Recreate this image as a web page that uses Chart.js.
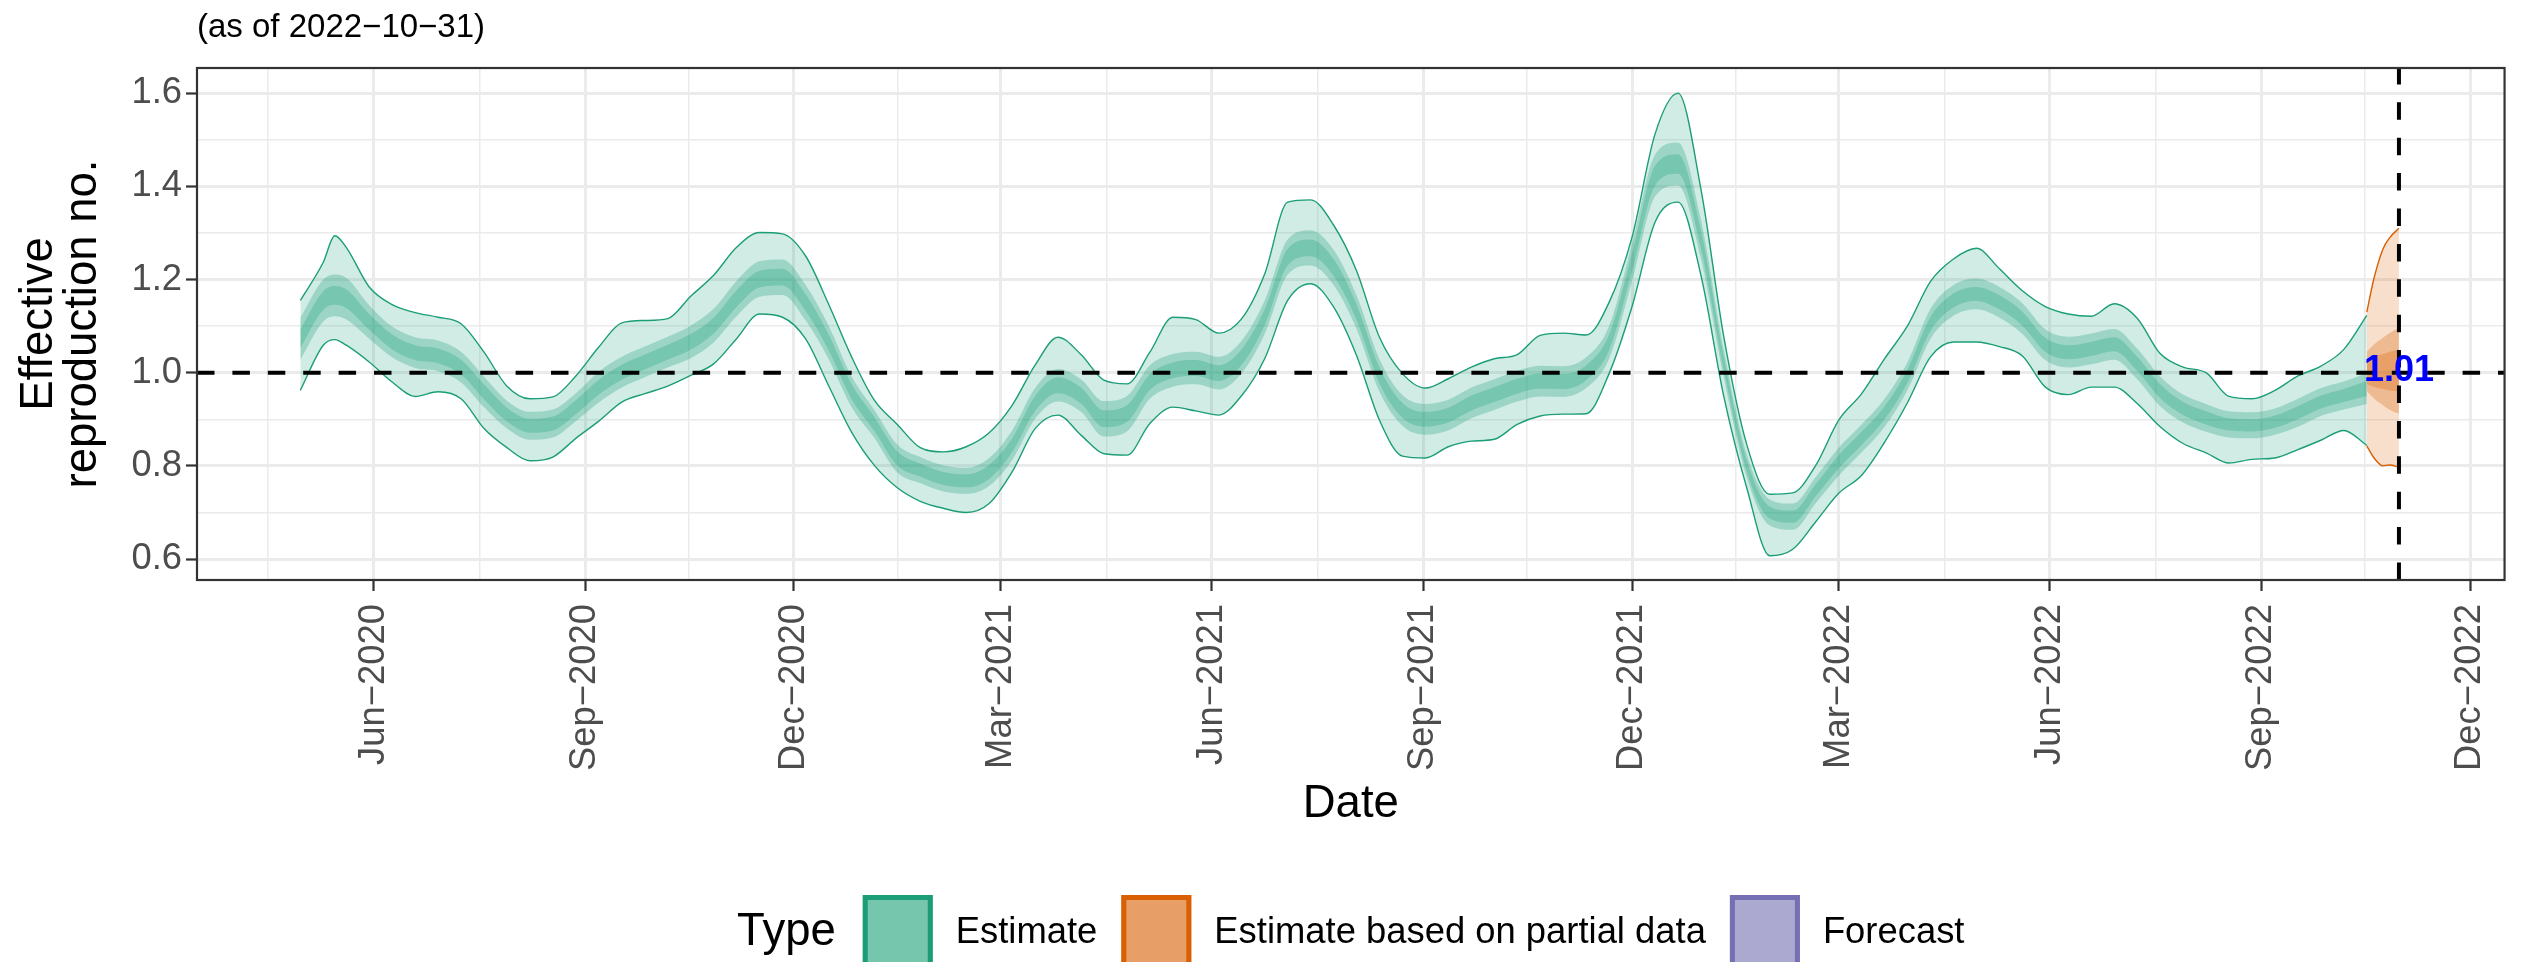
<!DOCTYPE html>
<html>
<head>
<meta charset="utf-8">
<title>Effective reproduction number</title>
<script src="https://cdn.jsdelivr.net/npm/chart.js@4.4.0/dist/chart.umd.min.js"></script>
<style>
  html, body { margin: 0; padding: 0; background: #ffffff; }
  #wrap { position: relative; width: 2527px; height: 962px; }
</style>
</head>
<body>
<div id="wrap"><canvas id="chart"></canvas></div>
<script>
// Rt estimate ribbons (90 / 50 / 20 % intervals), style ggplot theme_bw
const FONT = '"Liberation Sans", Arial, Helvetica, sans-serif';
Chart.defaults.font.family = FONT;

const TITLE = '(as of 2022\u221210\u221231)';
const AS_OF = '2022-10-31';
const LATEST_LABEL = '1.01';
const LATEST_VALUE = 1.01;
const REF_R = 1;

// axis limits and breaks
const X_MIN = '2020-03-16';
const X_MAX = '2022-12-16';
const Y_MIN = 0.555;
const Y_MAX = 1.654;
const X_MAJOR = ['2020-06-01', '2020-09-01', '2020-12-01', '2021-03-01', '2021-06-01', '2021-09-01',
  '2021-12-01', '2022-03-01', '2022-06-01', '2022-09-01', '2022-12-01'];
const X_LABELS = ['Jun\u22122020', 'Sep\u22122020', 'Dec\u22122020', 'Mar\u22122021', 'Jun\u22122021', 'Sep\u22122021',
  'Dec\u22122021', 'Mar\u22122022', 'Jun\u22122022', 'Sep\u22122022', 'Dec\u22122022'];
const X_MINOR = ['2020-04-16', '2020-07-17', '2020-10-16', '2021-01-15', '2021-04-16', '2021-07-17',
  '2021-10-16', '2022-01-15', '2022-04-16', '2022-07-17', '2022-10-16'];
const Y_MAJOR = [0.6, 0.8, 1.0, 1.2, 1.4, 1.6];
const Y_MINOR = [0.7, 0.9, 1.1, 1.3, 1.5];

// legend
const LEGEND_TITLE = 'Type';
const LEGEND_LABELS = ['Estimate', 'Estimate based on partial data', 'Forecast'];
const LEGEND_COLORS = ['#1b9e77', '#d95f02', '#7570b3'];

// Estimate
const EST_DATES = [
  '2020-04-30', '2020-05-10', '2020-05-15', '2020-05-20', '2020-05-30', '2020-06-09', '2020-06-19', '2020-06-29', '2020-07-09', '2020-07-19', '2020-07-29',
  '2020-08-08', '2020-08-18', '2020-08-28', '2020-09-07', '2020-09-17', '2020-09-27', '2020-10-07', '2020-10-17', '2020-10-27', '2020-11-06',
  '2020-11-16', '2020-11-26', '2020-12-06', '2020-12-16', '2020-12-26', '2021-01-05', '2021-01-15', '2021-01-25', '2021-02-04', '2021-02-14',
  '2021-02-24', '2021-03-06', '2021-03-16', '2021-03-26', '2021-04-05', '2021-04-15', '2021-04-25', '2021-05-05', '2021-05-15', '2021-05-25',
  '2021-06-04', '2021-06-14', '2021-06-24', '2021-07-04', '2021-07-14', '2021-07-24', '2021-08-03', '2021-08-13', '2021-08-23', '2021-09-02',
  '2021-09-12', '2021-09-22', '2021-10-02', '2021-10-12', '2021-10-22', '2021-11-01', '2021-11-11', '2021-11-21', '2021-12-01', '2021-12-11',
  '2021-12-21', '2021-12-31', '2022-01-10', '2022-01-20', '2022-01-30', '2022-02-09', '2022-02-19', '2022-03-01', '2022-03-11', '2022-03-21',
  '2022-03-31', '2022-04-10', '2022-04-20', '2022-04-30', '2022-05-10', '2022-05-20', '2022-05-30', '2022-06-09', '2022-06-19', '2022-06-29',
  '2022-07-09', '2022-07-19', '2022-07-29', '2022-08-08', '2022-08-18', '2022-08-28', '2022-09-07', '2022-09-17', '2022-09-27', '2022-10-07',
  '2022-10-17'];
const EST_LO90 = [
  0.962, 1.059, 1.071, 1.059, 1.023, 0.980, 0.949, 0.959, 0.944, 0.880, 0.839,
  0.811, 0.819, 0.859, 0.896, 0.937, 0.955, 0.971, 0.994, 1.019, 1.073,
  1.126, 1.119, 1.073, 0.973, 0.873, 0.801, 0.753, 0.724, 0.709, 0.700,
  0.719, 0.787, 0.880, 0.909, 0.866, 0.826, 0.823, 0.891, 0.926, 0.918,
  0.909, 0.951, 1.030, 1.155, 1.191, 1.141, 1.037, 0.898, 0.821, 0.817,
  0.841, 0.853, 0.857, 0.889, 0.907, 0.911, 0.912, 0.998, 1.142, 1.323,
  1.366, 1.209, 0.948, 0.752, 0.607, 0.621, 0.680, 0.741, 0.780, 0.851,
  0.936, 1.034, 1.066, 1.066, 1.056, 1.036, 0.969, 0.953, 0.969, 0.969,
  0.934, 0.884, 0.848, 0.828, 0.806, 0.814, 0.817, 0.835, 0.855, 0.876,
  0.844];
const EST_LO50 = [
  1.028, 1.110, 1.121, 1.114, 1.073, 1.033, 1.010, 1.003, 0.979, 0.926, 0.880,
  0.856, 0.861, 0.896, 0.936, 0.968, 0.990, 1.011, 1.031, 1.065, 1.121,
  1.163, 1.167, 1.113, 1.030, 0.927, 0.860, 0.786, 0.763, 0.745, 0.740,
  0.757, 0.812, 0.901, 0.938, 0.916, 0.863, 0.874, 0.944, 0.970, 0.975,
  0.964, 0.999, 1.083, 1.210, 1.230, 1.188, 1.094, 0.959, 0.886, 0.867,
  0.876, 0.902, 0.920, 0.938, 0.949, 0.948, 0.967, 1.030, 1.197, 1.378,
  1.402, 1.245, 0.989, 0.775, 0.672, 0.663, 0.720, 0.779, 0.829, 0.884,
  0.963, 1.073, 1.122, 1.136, 1.118, 1.083, 1.027, 1.011, 1.018, 1.028,
  0.986, 0.928, 0.893, 0.873, 0.861, 0.859, 0.867, 0.884, 0.907, 0.921,
  0.933];
const EST_LO20 = [
  1.053, 1.135, 1.146, 1.139, 1.092, 1.050, 1.027, 1.020, 0.996, 0.943, 0.895,
  0.871, 0.876, 0.911, 0.953, 0.985, 1.007, 1.028, 1.049, 1.084, 1.141,
  1.183, 1.187, 1.133, 1.049, 0.944, 0.875, 0.801, 0.777, 0.759, 0.754,
  0.772, 0.829, 0.918, 0.956, 0.934, 0.883, 0.894, 0.963, 0.988, 0.993,
  0.982, 1.017, 1.102, 1.230, 1.250, 1.208, 1.113, 0.977, 0.903, 0.884,
  0.893, 0.919, 0.937, 0.955, 0.966, 0.965, 0.984, 1.048, 1.218, 1.402,
  1.427, 1.267, 1.005, 0.788, 0.687, 0.678, 0.735, 0.795, 0.845, 0.900,
  0.979, 1.090, 1.140, 1.154, 1.136, 1.101, 1.045, 1.029, 1.036, 1.046,
  1.004, 0.945, 0.909, 0.889, 0.876, 0.874, 0.882, 0.900, 0.923, 0.937,
  0.950];
const EST_HI20 = [
  1.093, 1.175, 1.186, 1.179, 1.126, 1.082, 1.059, 1.052, 1.028, 0.975, 0.925,
  0.901, 0.906, 0.941, 0.985, 1.017, 1.039, 1.060, 1.083, 1.118, 1.177,
  1.219, 1.223, 1.169, 1.083, 0.976, 0.905, 0.831, 0.805, 0.787, 0.782,
  0.802, 0.859, 0.950, 0.990, 0.968, 0.919, 0.930, 0.997, 1.022, 1.027,
  1.016, 1.051, 1.136, 1.266, 1.286, 1.244, 1.147, 1.011, 0.935, 0.916,
  0.925, 0.951, 0.969, 0.987, 0.998, 0.997, 1.016, 1.082, 1.256, 1.444,
  1.469, 1.307, 1.033, 0.812, 0.713, 0.704, 0.761, 0.823, 0.873, 0.928,
  1.007, 1.120, 1.170, 1.184, 1.166, 1.131, 1.075, 1.059, 1.066, 1.076,
  1.034, 0.975, 0.937, 0.917, 0.902, 0.900, 0.908, 0.928, 0.951, 0.965,
  0.982];
const EST_HI50 = [
  1.118, 1.200, 1.211, 1.204, 1.145, 1.099, 1.076, 1.069, 1.045, 0.992, 0.940,
  0.916, 0.921, 0.956, 1.002, 1.034, 1.056, 1.077, 1.101, 1.137, 1.197,
  1.239, 1.243, 1.189, 1.102, 0.993, 0.920, 0.846, 0.819, 0.801, 0.796,
  0.817, 0.876, 0.967, 1.008, 0.986, 0.939, 0.950, 1.016, 1.040, 1.045,
  1.034, 1.069, 1.155, 1.286, 1.306, 1.264, 1.166, 1.029, 0.952, 0.933,
  0.942, 0.968, 0.986, 1.004, 1.015, 1.014, 1.033, 1.100, 1.277, 1.468,
  1.494, 1.329, 1.049, 0.825, 0.728, 0.719, 0.776, 0.839, 0.889, 0.944,
  1.023, 1.137, 1.188, 1.202, 1.184, 1.149, 1.093, 1.077, 1.084, 1.094,
  1.052, 0.992, 0.953, 0.933, 0.917, 0.915, 0.923, 0.944, 0.967, 0.981,
  0.999];
const EST_HI90 = [
  1.155, 1.237, 1.294, 1.269, 1.184, 1.146, 1.129, 1.119, 1.105, 1.044, 0.971,
  0.944, 0.948, 0.993, 1.055, 1.107, 1.112, 1.116, 1.164, 1.209, 1.269,
  1.301, 1.298, 1.251, 1.148, 1.035, 0.941, 0.889, 0.839, 0.830, 0.841,
  0.871, 0.930, 1.016, 1.076, 1.039, 0.984, 0.976, 1.044, 1.119, 1.114,
  1.085, 1.116, 1.212, 1.366, 1.371, 1.317, 1.219, 1.076, 0.998, 0.967,
  0.987, 1.012, 1.030, 1.039, 1.080, 1.085, 1.081, 1.151, 1.291, 1.512,
  1.600, 1.394, 1.076, 0.845, 0.739, 0.742, 0.801, 0.898, 0.955, 1.030,
  1.101, 1.196, 1.244, 1.267, 1.223, 1.176, 1.142, 1.126, 1.121, 1.148,
  1.117, 1.041, 1.012, 1.000, 0.949, 0.944, 0.962, 0.993, 1.014, 1.050,
  1.123];

// Estimate based on partial data
const PART_DATES = ['2022-10-17', '2022-10-20', '2022-10-24', '2022-10-27', '2022-10-31'];
const PART_LO90 = [0.843, 0.818, 0.800, 0.802, 0.797];
const PART_LO50 = [0.960, 0.945, 0.930, 0.920, 0.912];
const PART_LO20 = [0.975, 0.970, 0.965, 0.962, 0.960];
const PART_HI20 = [1.025, 1.035, 1.040, 1.045, 1.050];
const PART_HI50 = [1.045, 1.060, 1.075, 1.085, 1.097];
const PART_HI90 = [1.130, 1.200, 1.265, 1.290, 1.310];

const day = (s) => Date.parse(s + 'T00:00:00Z') / 864e5;
const pts = (dates, vals) => dates.map((d, i) => ({ x: day(d), y: vals[i] }));
function rgba(hex, a) {
  const n = parseInt(hex.slice(1), 16);
  return `rgba(${n >> 16},${(n >> 8) & 255},${n & 255},${a})`;
}

// one interval = lower line + upper line filled down to it
function band(dates, lo, hi, color, alpha, outline) {
  const line = {
    pointRadius: 0, borderWidth: outline ? 1.4 : 0,
    borderColor: outline ? color : 'rgba(0,0,0,0)',
    cubicInterpolationMode: 'monotone', order: 1,
  };
  return [
    { ...line, data: pts(dates, lo), fill: false },
    { ...line, data: pts(dates, hi), fill: '-1', backgroundColor: rgba(color, alpha) },
  ];
}

const datasets = [
  ...band(EST_DATES, EST_LO90, EST_HI90, LEGEND_COLORS[0], 0.2, true),
  ...band(EST_DATES, EST_LO50, EST_HI50, LEGEND_COLORS[0], 0.29, false),
  ...band(EST_DATES, EST_LO20, EST_HI20, LEGEND_COLORS[0], 0.29, false),
  ...band(PART_DATES, PART_LO90, PART_HI90, LEGEND_COLORS[1], 0.2, true),
  ...band(PART_DATES, PART_LO50, PART_HI50, LEGEND_COLORS[1], 0.29, false),
  ...band(PART_DATES, PART_LO20, PART_HI20, LEGEND_COLORS[1], 0.29, false),
  {
    data: [{ x: day(X_MIN), y: REF_R }, { x: day(X_MAX), y: REF_R }],
    borderColor: '#000', borderWidth: 4, borderDash: [17.5, 17.9], pointRadius: 0, fill: false, order: 0,
  },
  {
    data: [{ x: day(AS_OF), y: Y_MIN }, { x: day(AS_OF), y: Y_MAX }],
    borderColor: '#000', borderWidth: 4, borderDash: [17.5, 17.9], pointRadius: 0, fill: false, order: 0,
  },
];

const xMajorDays = X_MAJOR.map(day);
const xLabelOf = new Map(xMajorDays.map((d, i) => [d, X_LABELS[i]]));
const xTicks = [...xMajorDays, ...X_MINOR.map(day)].sort((a, b) => a - b);
const yTicks = [...Y_MAJOR, ...Y_MINOR].sort((a, b) => a - b);
const isYMajor = (v) => Y_MAJOR.some((m) => Math.abs(m - v) < 1e-6);
const isXMajor = (v) => xLabelOf.has(v);

const GRID = '#ebebeb';
const AXIS_DARK = '#333333';
const TICK_TEXT = '#4d4d4d';

const decorPlugin = {
  id: 'decor',
  afterDraw(chart) {
    const { ctx, chartArea: a, scales } = chart;
    ctx.save();

    // panel border
    ctx.strokeStyle = AXIS_DARK;
    ctx.lineWidth = 2.2;
    ctx.strokeRect(a.left, a.top, a.right - a.left, a.bottom - a.top);

    // title
    ctx.fillStyle = '#000';
    ctx.font = `33px ${FONT}`;
    ctx.textAlign = 'left';
    ctx.textBaseline = 'alphabetic';
    ctx.fillText(TITLE, a.left, 37);

    // latest value
    ctx.fillStyle = '#0000ff';
    ctx.font = `bold 36px ${FONT}`;
    ctx.textAlign = 'center';
    ctx.fillText(LATEST_LABEL, scales.x.getPixelForValue(day(AS_OF)), scales.y.getPixelForValue(LATEST_VALUE) + 13);

    // legend
    const KEY = 70, KEY_H = 76, G1 = 27, G2 = 23, G3 = 24, KEY_TOP = 895;
    ctx.textAlign = 'left';
    ctx.font = `45.5px ${FONT}`;
    const titleW = ctx.measureText(LEGEND_TITLE).width;
    ctx.font = `36.4px ${FONT}`;
    const labelW = LEGEND_LABELS.map((l) => ctx.measureText(l).width);
    let total = titleW;
    labelW.forEach((w, i) => { total += (i === 0 ? G1 : G3) + KEY + G2 + w; });
    let x = (a.left + a.right) / 2 - total / 2;
    ctx.fillStyle = '#000';
    ctx.font = `45.5px ${FONT}`;
    ctx.fillText(LEGEND_TITLE, x, 945);
    x += titleW;
    ctx.font = `36.4px ${FONT}`;
    LEGEND_LABELS.forEach((label, i) => {
      x += i === 0 ? G1 : G3;
      ctx.fillStyle = rgba(LEGEND_COLORS[i], 0.6);
      ctx.fillRect(x, KEY_TOP, KEY, KEY_H);
      ctx.strokeStyle = LEGEND_COLORS[i];
      ctx.lineWidth = 5;
      ctx.strokeRect(x + 2.5, KEY_TOP + 2.5, KEY - 5, KEY_H - 5);
      x += KEY + G2;
      ctx.fillStyle = '#000';
      ctx.fillText(label, x, 943);
      x += labelW[i];
    });
    ctx.restore();
  },
};

new Chart(document.getElementById('chart'), {
  type: 'line',
  data: { datasets },
  plugins: [decorPlugin],
  options: {
    responsive: true,
    maintainAspectRatio: false,
    devicePixelRatio: 1,
    animation: false,
    layout: { padding: { top: 68, right: 13, bottom: 132, left: 0 } },
    plugins: { legend: { display: false }, tooltip: { enabled: false } },
    scales: {
      x: {
        type: 'linear',
        min: day(X_MIN),
        max: day(X_MAX),
        afterBuildTicks: (s) => { s.ticks = xTicks.map((v) => ({ value: v })); },
        afterFit: (s) => { s.height = 250; },
        ticks: {
          autoSkip: false, maxRotation: 90, minRotation: 90, padding: 13,
          color: TICK_TEXT, font: { size: 36.4 },
          callback: (v) => xLabelOf.get(v) || '',
        },
        grid: {
          color: GRID,
          lineWidth: (c) => (c.tick && isXMajor(c.tick.value) ? 3 : 1.5),
          tickColor: (c) => (c.tick && isXMajor(c.tick.value) ? AXIS_DARK : 'rgba(0,0,0,0)'),
          tickLength: 11,
          tickWidth: 2.2,
        },
        border: { display: false },
        title: {
          display: true, text: 'Date', color: '#000',
          font: { size: 45.5, lineHeight: 1.14 }, padding: { top: 0, bottom: 0 },
        },
      },
      y: {
        type: 'linear',
        min: Y_MIN,
        max: Y_MAX,
        afterBuildTicks: (s) => { s.ticks = yTicks.map((v) => ({ value: v })); },
        afterFit: (s) => { s.width = 197; },
        ticks: {
          autoSkip: false, padding: 4, color: TICK_TEXT, font: { size: 36.4 },
          callback: (v) => (isYMajor(v) ? v.toFixed(1) : ''),
        },
        grid: {
          color: GRID,
          lineWidth: (c) => (c.tick && isYMajor(c.tick.value) ? 3 : 1.5),
          tickColor: (c) => (c.tick && isYMajor(c.tick.value) ? AXIS_DARK : 'rgba(0,0,0,0)'),
          tickLength: 11,
          tickWidth: 2.2,
        },
        border: { display: false },
        title: {
          display: true, text: ['Effective', 'reproduction no.'], color: '#000',
          font: { size: 45.5, lineHeight: 0.96 }, padding: { top: 18, bottom: 0 },
        },
      },
    },
  },
});
</script>
</body>
</html>
